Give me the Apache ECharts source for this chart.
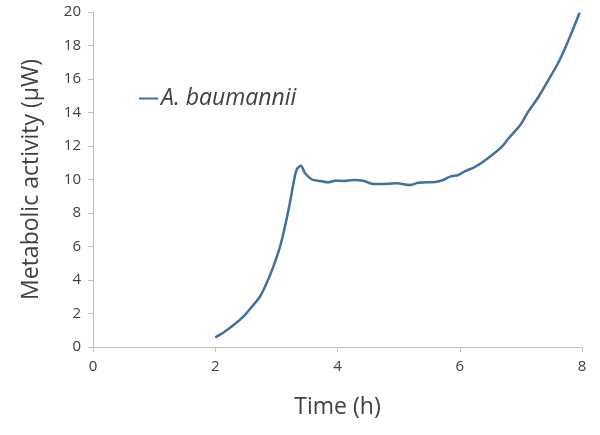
<!DOCTYPE html>
<html><head><meta charset="utf-8">
<script src="https://cdn.jsdelivr.net/npm/echarts@6/dist/echarts.min.js"></script>
<style>html,body{margin:0;padding:0;background:#fff}#c{width:600px;height:435px}</style>
</head><body><div id="c"></div>
<script>
const seriesName = 'A. baumannii';
const timeH = [2.0,2.13,2.30,2.46,2.60,2.73,2.84,2.95,3.06,3.14,3.22,3.28,3.33,3.40,3.47,3.58,3.72,3.85,3.96,4.10,4.26,4.42,4.56,4.70,4.97,5.19,5.32,5.60,5.73,5.84,5.98,6.09,6.22,6.36,6.55,6.69,6.80,6.99,7.12,7.29,7.45,7.62,7.78,7.96];
const activity = [0.58,0.85,1.31,1.81,2.41,3.0,3.8,4.8,5.99,7.18,8.58,9.77,10.57,10.82,10.37,10.0,9.91,9.83,9.93,9.91,9.97,9.93,9.75,9.73,9.77,9.67,9.81,9.85,9.97,10.17,10.27,10.5,10.7,11.0,11.52,11.96,12.46,13.25,14.05,14.94,15.94,17.03,18.33,19.96];
const xTicks = [0,2,4,6,8];
const yTicks = [0,2,4,6,8,10,12,14,16,18,20];

const chart = echarts.init(document.getElementById('c'));
const txt = '#404040';
chart.setOption({
  animation:false,
  textStyle:{fontFamily:'Open Sans'},
  grid:{left:93,right:18,top:12,bottom:88},
  legend:{
    left:134, top:82, icon:'rect', itemWidth:19, itemHeight:2, itemGap:3,
    textStyle:{fontSize:23,fontStyle:'italic',color:txt,fontFamily:'Open Sans',padding:[0,0,0,-2]},
    data:[seriesName]
  },
  xAxis:{
    type:'value', min:xTicks[0], max:xTicks[xTicks.length-1], interval:2,
    name:'Time (h)', nameLocation:'middle', nameGap:49,
    nameTextStyle:{fontSize:23,color:txt},
    axisLine:{lineStyle:{color:'#bfbfbf'}},
    axisTick:{show:true,length:5,lineStyle:{color:'#bfbfbf'}},
    axisLabel:{color:txt,fontSize:15,margin:12},
    splitLine:{show:false}
  },
  yAxis:{
    type:'value', min:yTicks[0], max:yTicks[yTicks.length-1], interval:2,
    name:'Metabolic activity (μW)', nameLocation:'middle', nameGap:50,
    nameTextStyle:{fontSize:23,color:txt},
    axisLine:{show:true,lineStyle:{color:'#bfbfbf'}},
    axisTick:{show:true,length:5,lineStyle:{color:'#bfbfbf'}},
    axisLabel:{color:txt,fontSize:15,margin:12},
    splitLine:{show:false}
  },
  series:[{
    name:seriesName, type:'line', smooth:0.3, showSymbol:false, symbol:'none',
    lineStyle:{color:'#41719c',width:2.5}, itemStyle:{color:'#41719c'},
    data: timeH.map((t,i)=>[t,activity[i]])
  }]
});
</script></body></html>
